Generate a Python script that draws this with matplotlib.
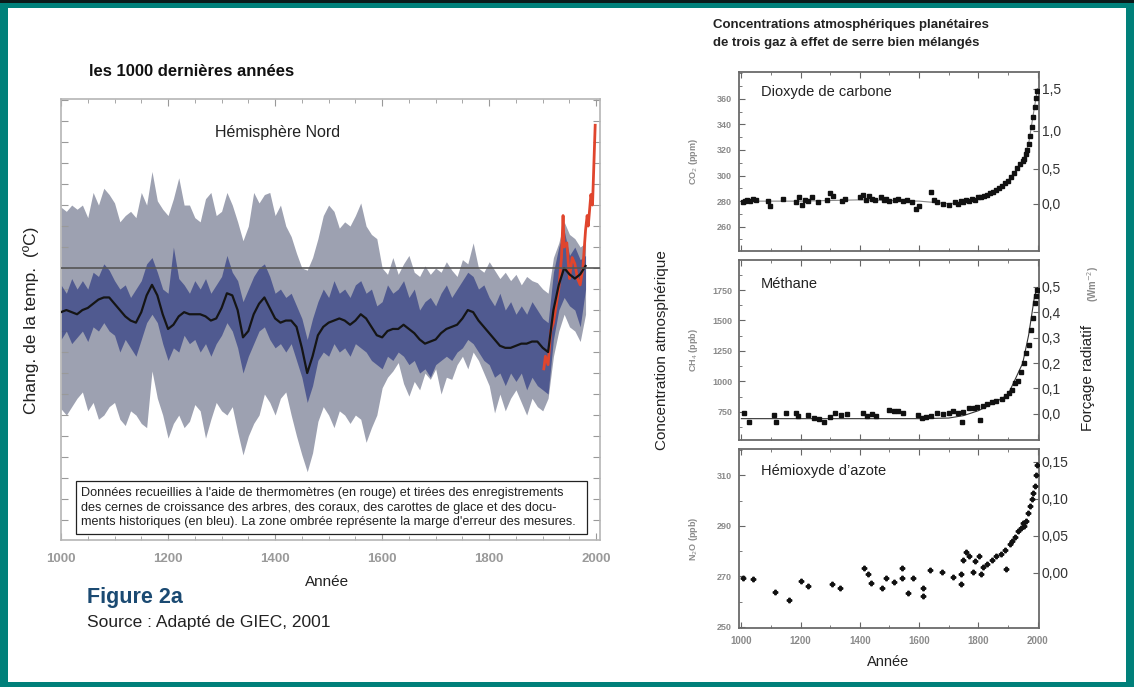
import numpy as np
import matplotlib.pyplot as plt
from matplotlib.patches import Rectangle
from matplotlib.ticker import MultipleLocator, FixedLocator, FuncFormatter

plt.rcParams['font.family'] = ['Liberation Sans', 'DejaVu Sans']

# --- hémisphère Nord, reconstruction (pas de 10 ans) ---
years = list(range(1000, 1990, 10))
band_hi = [0.29, 0.27, 0.30, 0.28, 0.30, 0.24, 0.36, 0.30, 0.38, 0.35,
           0.31, 0.22, 0.25, 0.27, 0.24, 0.36, 0.30, 0.46, 0.32, 0.28,
           0.25, 0.33, 0.43, 0.30, 0.30, 0.24, 0.22, 0.33, 0.36, 0.25,
           0.27, 0.36, 0.30, 0.22, 0.13, 0.20, 0.36, 0.31, 0.35, 0.36,
           0.25, 0.30, 0.20, 0.15, 0.07, 0.00, -0.01, 0.05, 0.14, 0.25,
           0.30, 0.27, 0.19, 0.22, 0.20, 0.25, 0.31, 0.20, 0.16, 0.14,
           0.00, -0.03, 0.05, -0.03, 0.02, 0.06, -0.02, -0.04, 0.01, -0.03,
           0.00, -0.02, 0.03, -0.01, -0.04, 0.04, 0.02, 0.12, 0.00, -0.02,
           0.03, -0.01, -0.05, -0.02, -0.06, -0.03, -0.08, -0.04, -0.06, -0.07,
           -0.10, -0.12, 0.05, 0.12, 0.22, 0.16, 0.14, 0.10, 0.12]
band_lo = [-0.67, -0.70, -0.66, -0.62, -0.59, -0.68, -0.64, -0.72, -0.70, -0.66,
           -0.64, -0.72, -0.75, -0.68, -0.70, -0.74, -0.76, -0.49, -0.62, -0.70,
           -0.81, -0.74, -0.70, -0.76, -0.73, -0.65, -0.68, -0.81, -0.72, -0.64,
           -0.68, -0.70, -0.66, -0.78, -0.89, -0.80, -0.74, -0.70, -0.60, -0.64,
           -0.70, -0.62, -0.59, -0.70, -0.80, -0.89, -0.97, -0.88, -0.73, -0.66,
           -0.70, -0.76, -0.68, -0.70, -0.74, -0.70, -0.72, -0.83, -0.76, -0.70,
           -0.57, -0.52, -0.49, -0.45, -0.55, -0.61, -0.54, -0.58, -0.50, -0.53,
           -0.48, -0.60, -0.52, -0.53, -0.46, -0.42, -0.48, -0.40, -0.44, -0.50,
           -0.56, -0.69, -0.60, -0.68, -0.62, -0.58, -0.64, -0.70, -0.62, -0.66,
           -0.68, -0.62, -0.42, -0.30, -0.22, -0.28, -0.30, -0.35, -0.22]
blue_hi = [-0.08, -0.12, -0.05, -0.10, -0.06, -0.10, -0.02, -0.04, 0.02, -0.01,
           -0.06, -0.10, -0.08, -0.14, -0.10, -0.06, 0.02, 0.05, -0.02, -0.10,
           -0.12, 0.10, -0.05, -0.08, -0.12, -0.06, -0.10, -0.05, -0.12, -0.08,
           -0.04, 0.06, -0.02, -0.06, -0.16, -0.10, -0.04, 0.00, 0.02, -0.04,
           -0.12, -0.10, -0.14, -0.12, -0.18, -0.24, -0.34, -0.24, -0.16, -0.10,
           -0.14, -0.06, -0.12, -0.10, -0.14, -0.08, -0.06, -0.12, -0.10, -0.18,
           -0.16, -0.08, -0.12, -0.10, -0.06, -0.14, -0.10, -0.20, -0.16, -0.14,
           -0.18, -0.12, -0.08, -0.14, -0.10, -0.06, -0.02, -0.04, -0.10, -0.08,
           -0.14, -0.18, -0.12, -0.20, -0.16, -0.22, -0.18, -0.22, -0.16, -0.20,
           -0.24, -0.26, -0.02, 0.10, 0.18, 0.06, 0.10, 0.04, 0.06]
blue_lo = [-0.34, -0.30, -0.36, -0.33, -0.30, -0.35, -0.28, -0.30, -0.26, -0.30,
           -0.32, -0.40, -0.34, -0.38, -0.42, -0.34, -0.26, -0.22, -0.26, -0.36,
           -0.44, -0.38, -0.40, -0.32, -0.36, -0.34, -0.40, -0.36, -0.42, -0.36,
           -0.32, -0.26, -0.30, -0.38, -0.50, -0.42, -0.36, -0.30, -0.28, -0.34,
           -0.38, -0.36, -0.40, -0.36, -0.44, -0.52, -0.64, -0.56, -0.44, -0.40,
           -0.42, -0.36, -0.40, -0.38, -0.42, -0.36, -0.38, -0.40, -0.44, -0.46,
           -0.48, -0.42, -0.44, -0.40, -0.42, -0.46, -0.44, -0.50, -0.48, -0.52,
           -0.46, -0.44, -0.42, -0.44, -0.40, -0.38, -0.34, -0.36, -0.40, -0.44,
           -0.46, -0.52, -0.50, -0.56, -0.50, -0.54, -0.50, -0.58, -0.52, -0.56,
           -0.58, -0.60, -0.34, -0.20, -0.14, -0.18, -0.20, -0.28, -0.10]
smooth = [-0.21, -0.20, -0.21, -0.22, -0.20, -0.19, -0.17, -0.15, -0.14, -0.14,
          -0.17, -0.20, -0.23, -0.25, -0.26, -0.21, -0.13, -0.08, -0.13, -0.22,
          -0.29, -0.27, -0.23, -0.21, -0.22, -0.22, -0.22, -0.23, -0.25, -0.24,
          -0.19, -0.12, -0.13, -0.20, -0.33, -0.30, -0.22, -0.17, -0.14, -0.19,
          -0.24, -0.26, -0.25, -0.25, -0.28, -0.38, -0.50, -0.42, -0.32, -0.28,
          -0.26, -0.25, -0.24, -0.25, -0.27, -0.25, -0.22, -0.24, -0.28, -0.32,
          -0.33, -0.30, -0.29, -0.29, -0.27, -0.29, -0.31, -0.34, -0.36, -0.35,
          -0.34, -0.31, -0.29, -0.28, -0.27, -0.24, -0.20, -0.21, -0.25, -0.28,
          -0.31, -0.34, -0.37, -0.38, -0.38, -0.37, -0.36, -0.36, -0.35, -0.35,
          -0.38, -0.40, -0.20, -0.08, 0.00, -0.03, -0.05, -0.03, 0.01]

# thermomètres
red_years = [1902, 1905, 1910, 1915, 1920, 1925, 1930, 1935, 1938, 1940, 1945, 1950,
             1955, 1960, 1965, 1970, 1975, 1980, 1983, 1985, 1990, 1993, 1995, 1998]
red_temp = [-0.48, -0.42, -0.46, -0.30, -0.26, -0.18, -0.10, 0.05, 0.25, 0.10, 0.12, -0.05,
            0.05, 0.02, -0.05, -0.08, 0.00, 0.18, 0.25, 0.20, 0.35, 0.30, 0.45, 0.68]

# --- gaz à effet de serre ---
co2_year = [1005, 1012, 1020, 1030, 1040, 1050, 1090, 1095, 1140, 1185,
            1195, 1205, 1215, 1225, 1240, 1260, 1290, 1300, 1310, 1340,
            1350, 1400, 1410, 1420, 1430, 1440, 1450, 1470, 1480, 1490,
            1500, 1520, 1530, 1545, 1560, 1575, 1590, 1600, 1640, 1650,
            1660, 1680, 1700, 1720, 1730, 1740, 1750, 1760, 1770, 1780,
            1790, 1800, 1810, 1820, 1830, 1840, 1850, 1860, 1870, 1880,
            1890, 1900, 1910, 1920, 1930, 1940, 1950, 1955, 1960, 1965,
            1970, 1975, 1980, 1985, 1990, 1995, 1998]
co2_ppm = [279, 280, 281, 280, 282, 281, 280, 276, 282, 279,
           283, 277, 281, 280, 283, 279, 281, 286, 284, 280,
           282, 283, 285, 281, 284, 282, 281, 283, 281, 282,
           280, 281, 282, 280, 281, 279, 274, 276, 287, 281,
           279, 278, 277, 279, 278, 280, 279, 281, 280, 282,
           281, 283, 283, 284, 285, 286, 287, 289, 290, 292,
           294, 296, 299, 302, 306, 309, 311, 313, 317, 320,
           325, 331, 338, 346, 354, 361, 366]
co2_fit_year = [1000, 1200, 1400, 1600, 1700, 1750, 1800, 1850, 1900, 1950, 1970, 1990, 2000]
co2_fit = [280, 280, 281, 280, 278, 279, 282, 286, 296, 311, 325, 354, 368]

ch4_year = [1008, 1025, 1110, 1118, 1150, 1185, 1192, 1225, 1245, 1262,
            1280, 1300, 1315, 1335, 1355, 1410, 1425, 1440, 1455, 1500,
            1515, 1530, 1545, 1595, 1610, 1625, 1640, 1660, 1680, 1700,
            1715, 1730, 1745, 1748, 1770, 1785, 1795, 1805, 1815, 1830,
            1845, 1860, 1880, 1895, 1905, 1915, 1925, 1935, 1945, 1955,
            1962, 1970, 1978, 1985, 1990, 1995, 1998]
ch4_ppb = [742, 670, 725, 670, 742, 742, 715, 725, 700, 690,
           670, 710, 742, 725, 730, 742, 720, 735, 715, 770,
           760, 755, 740, 725, 700, 710, 715, 742, 735, 745,
           757, 742, 670, 750, 783, 780, 790, 683, 800, 815,
           830, 840, 860, 880, 908, 930, 990, 1000, 1080, 1150,
           1230, 1300, 1420, 1520, 1640, 1700, 1750]
ch4_fit_year = [1000, 1200, 1400, 1600, 1700, 1750, 1800, 1850, 1900, 1950, 1970, 1990, 2000]
ch4_fit = [695, 695, 695, 695, 700, 720, 760, 820, 890, 1150, 1380, 1700, 1770]

n2o_year = [1007, 1040, 1114, 1162, 1202, 1226, 1306, 1333, 1414, 1426,
            1438, 1475, 1490, 1515, 1542, 1542, 1562, 1580, 1613, 1613,
            1637, 1676, 1715, 1741, 1741, 1748, 1760, 1770, 1781, 1790,
            1804, 1810, 1815, 1830, 1845, 1860, 1875, 1890, 1894, 1906,
            1915, 1925, 1935, 1945, 1950, 1955, 1962, 1968, 1975, 1980,
            1985, 1990, 1995, 1998]
n2o_ppb = [269.4, 269.0, 263.8, 260.8, 268.0, 266.2, 267.0, 265.4, 273.2, 271.0,
           267.4, 265.5, 269.2, 267.7, 273.2, 269.4, 263.2, 269.2, 265.4, 262.3,
           272.6, 271.7, 269.6, 270.8, 266.8, 276.6, 279.5, 278.0, 271.8, 276.0,
           278.0, 271.0, 273.8, 275.0, 276.5, 278.0, 279.0, 280.5, 273.0, 283.0,
           284.0, 285.5, 288.0, 289.0, 291.0, 290.0, 292.0, 295.0, 298.0, 300.5,
           303.0, 306.0, 310.0, 314.0]

W, H = 1134, 687


def box(l, t, r, b):
    return [l / W, 1 - b / H, (r - l) / W, (b - t) / H]


def fx(px):
    return px / W


def fy(py):
    return 1 - py / H


fig = plt.figure(figsize=(W / 100, H / 100), dpi=100)

# cadre vert
teal = '#00807a'
for l, t, r, b, c in [(0, 0, 8, H, teal), (W - 8, 0, W, H, teal), (0, H - 5, W, H, teal),
                      (0, 0, W, 8, teal), (0, 0, W, 3, '#0b1a1a')]:
    fig.add_artist(Rectangle((fx(l), fy(b)), (r - l) / W, (b - t) / H,
                             transform=fig.transFigure, color=c, lw=0, zorder=0))

# ---------------- graphique de gauche ----------------
ax = fig.add_axes(box(61, 99, 600, 540))
ax.fill_between(years, band_lo, band_hi, color='#9da1b1', lw=0, zorder=1)
ax.fill_between(years, blue_lo, blue_hi, color='#1e2b7a', alpha=0.6, lw=0, zorder=2)
ax.plot(red_years, red_temp, color='#e0452d', lw=2, zorder=3)
ax.plot(years, smooth, color='#151515', lw=1.6, zorder=4)
ax.axhline(0, color='#555555', lw=1.2, zorder=5)

ax.set_xlim(1000, 2007)
ax.set_ylim(-1.295, 0.805)
ax.xaxis.set_major_locator(MultipleLocator(200))
ax.xaxis.set_minor_locator(MultipleLocator(50))
ax.yaxis.set_major_locator(MultipleLocator(0.1))
ax.tick_params(which='both', direction='in', top=True, right=True, color='#999999',
               labelleft=False)
ax.tick_params(which='major', length=5)
ax.tick_params(which='minor', length=3)
ax.tick_params(axis='x', pad=9, labelsize=9.5, labelcolor='#9a9a9a')
for lab in ax.get_xticklabels():
    lab.set_fontweight('bold')
for s in ax.spines.values():
    s.set_color('#b5b5b5')
    s.set_linewidth(1.2)

fig.text(fx(89), fy(72), 'les 1000 dernières années', fontsize=12, fontweight='bold',
         va='center', ha='left', color='#111111')
fig.text(fx(278), fy(132), 'Hémisphère Nord', fontsize=11.5, ha='center', va='center',
         color='#222222')
fig.text(fx(31), fy(320), 'Chang. de la temp.  (ºC)', fontsize=12.5, rotation=90,
         ha='center', va='center', color='#222222')
fig.text(fx(327), fy(582), 'Année', fontsize=11, ha='center', va='center', color='#222222')

fig.add_artist(Rectangle((fx(76), fy(534)), (587 - 76) / W, (534 - 481) / H,
                         transform=fig.transFigure, fc='white', ec='#222222', lw=0.9,
                         zorder=6))
note = ("Données recueillies à l'aide de thermomètres (en rouge) et tirées des enregistrements\n"
        "des cernes de croissance des arbres, des coraux, des carottes de glace et des docu-\n"
        "ments historiques (en bleu). La zone ombrée représente la marge d'erreur des mesures.")
fig.text(fx(81), fy(507.5), note, fontsize=9.1, ha='left', va='center', linespacing=1.28,
         color='#222222', zorder=7)

fig.text(fx(87), fy(598), 'Figure 2a', fontsize=15.5, fontweight='bold', color='#1b4a72',
         ha='left', va='center')
fig.text(fx(87), fy(623), 'Source : Adapté de GIEC, 2001', fontsize=12.5, color='#222222',
         ha='left', va='center')

# ---------------- graphique de droite ----------------
fig.text(fx(713), fy(25), 'Concentrations atmosphériques planétaires', fontsize=9.5,
         fontweight='bold', ha='left', va='center', color='#222222')
fig.text(fx(713), fy(43), 'de trois gaz à effet de serre bien mélangés', fontsize=9.5,
         fontweight='bold', ha='left', va='center', color='#222222')

panels = [
    dict(rect=(739, 72, 1039, 251), ylim=(241, 381), yt=[260, 280, 300, 320, 340, 360], ym=10,
         name='Dioxyde de carbone', ny=92, unit='CO$_2$ (ppm)',
         fwd=lambda c: 5.35 * np.log(np.maximum(c, 1) / 278.0),
         inv=lambda f: 278.0 * np.exp(f / 5.35),
         ft=[0.0, 0.5, 1.0, 1.5], fmt='{:.1f}'),
    dict(rect=(739, 260, 1039, 440), ylim=(520, 1996), yt=[750, 1000, 1250, 1500, 1750], ym=125,
         name='Méthane', ny=284, unit='CH$_4$ (ppb)',
         fwd=lambda m: (m - 735.0) / 2080.0, inv=lambda f: f * 2080.0 + 735.0,
         ft=[0.0, 0.1, 0.2, 0.3, 0.4, 0.5], fmt='{:.1f}'),
    dict(rect=(739, 449, 1039, 628), ylim=(249.5, 320.5), yt=[250, 270, 290, 310], ym=10,
         name='Hémioxyde d\u2019azote', ny=471, unit='N$_2$O (ppb)',
         fwd=lambda n: (n - 271.5) / 292.7, inv=lambda f: f * 292.7 + 271.5,
         ft=[0.0, 0.05, 0.10, 0.15], fmt='{:.2f}'),
]

axes = []
for p in panels:
    l, t, r, b = p['rect']
    a = fig.add_axes(box(l, t, r, b))
    a.set_xlim(992, 2005)
    a.set_ylim(*p['ylim'])
    a.xaxis.set_major_locator(MultipleLocator(200))
    a.xaxis.set_minor_locator(MultipleLocator(100))
    a.yaxis.set_major_locator(FixedLocator(p['yt']))
    a.yaxis.set_minor_locator(MultipleLocator(p['ym']))
    a.tick_params(which='both', direction='in', top=True, color='#666666')
    a.tick_params(which='major', length=4)
    a.tick_params(which='minor', length=2)
    a.tick_params(axis='y', labelsize=6.5, labelcolor='#8a8a8a', pad=5)
    a.tick_params(axis='x', labelsize=7, labelcolor='#8a8a8a', labelbottom=False)
    for lab in a.get_yticklabels():
        lab.set_fontweight('bold')
    for s in a.spines.values():
        s.set_color('#6a6a6a')
        s.set_linewidth(1.3)
    sec = a.secondary_yaxis('right', functions=(p['fwd'], p['inv']))
    sec.set_yticks(p['ft'])
    fmt = p['fmt']
    sec.yaxis.set_major_formatter(FuncFormatter(lambda v, pos, fmt=fmt: fmt.format(v).replace('.', ',')))
    sec.tick_params(direction='in', length=4, color='#666666', labelsize=10,
                    labelcolor='#333333', pad=2)
    sec.spines['right'].set_visible(False)
    fig.text(fx(l + 22), fy(p['ny']), p['name'], fontsize=10.5, ha='left', va='center',
             color='#222222')
    fig.text(fx(693), fy((t + b) / 2), p['unit'], fontsize=6.5, rotation=90, ha='center',
             va='center', color='#8a8a8a', fontweight='bold')
    axes.append(a)

ax_co2, ax_ch4, ax_n2o = axes
ax_co2.plot(co2_fit_year, co2_fit, color='#888888', lw=0.8, zorder=2)
ax_co2.plot(co2_year, co2_ppm, ls='none', marker='s', ms=3.3, color='#111111', zorder=3)
ax_ch4.plot(ch4_fit_year, ch4_fit, color='#333333', lw=0.8, zorder=2)
ax_ch4.plot(ch4_year, ch4_ppb, ls='none', marker='s', ms=2.8, color='#111111', zorder=3)
ax_n2o.plot(n2o_year, n2o_ppb, ls='none', marker='P', ms=3.2, color='#111111', zorder=3)
ax_n2o.tick_params(axis='x', labelbottom=True, pad=6)
for lab in ax_n2o.get_xticklabels():
    lab.set_fontweight('bold')

fig.text(fx(888), fy(662), 'Année', fontsize=10.5, ha='center', va='center', color='#222222')
fig.text(fx(662), fy(350), 'Concentration atmosphérique', fontsize=11, rotation=90,
         ha='center', va='center', color='#222222')
fig.text(fx(1088), fy(378), 'Forçage radiatif', fontsize=11, rotation=90,
         ha='center', va='center', color='#222222')
fig.text(fx(1093), fy(284), '(Wm$^{-2}$)', fontsize=7, rotation=90, fontweight='bold',
         ha='center', va='center', color='#8a8a8a')

fig.savefig('out.png', dpi=100)
